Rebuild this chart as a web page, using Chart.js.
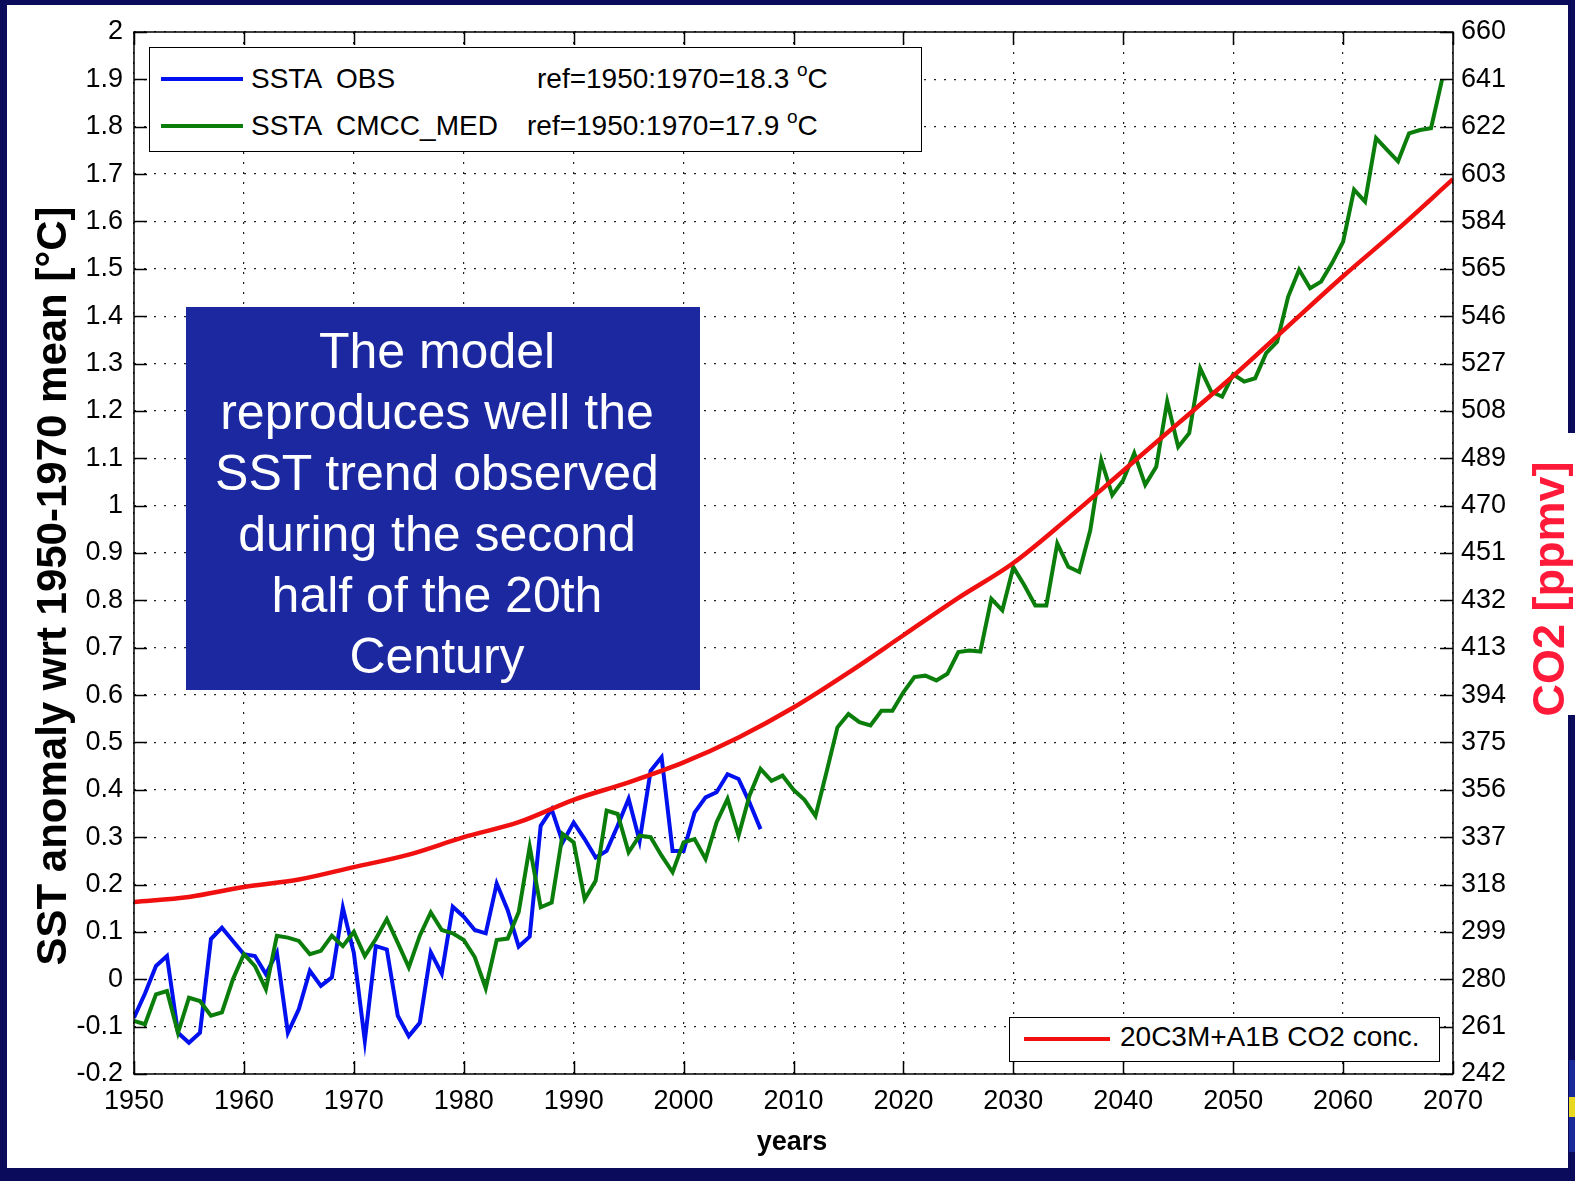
<!DOCTYPE html>
<html>
<head>
<meta charset="utf-8">
<title>SST anomaly and CO2</title>
<script src="https://cdn.jsdelivr.net/npm/chart.js@4.4.1/dist/chart.umd.min.js"></script>
<style>
  html, body { margin: 0; padding: 0; }
  body {
    width: 1575px; height: 1181px; position: relative; overflow: hidden;
    background: #0b0b5c;
    font-family: 'Liberation Sans', Arial, Helvetica, sans-serif;
  }
  #panel { position: absolute; left: 7px; top: 5px; width: 1561px; height: 1163px; background: #fff; }
  #tab { position: absolute; left: 1560px; top: 433px; width: 15px; height: 282px; background: #fff; }
  #logo { position: absolute; left: 1569px; top: 1060px; width: 6px; height: 92px;
          background: linear-gradient(#1b2a9a 0 40%, #e8d820 40% 62%, #1b2a9a 62% 100%); }
  #chart { position: absolute; left: 0; top: 0; }
  .box { position: absolute; background: #fff; border: 1.5px solid #000; box-sizing: border-box; }
  .swatch { position: absolute; height: 4px; }
  .txt { position: absolute; font-size: 28px; line-height: 32px; color: #000; white-space: pre; }
  .txt sup { font-size: 19px; position: relative; top: -3px; vertical-align: top; line-height: 19px; }
  #note {
    position: absolute; left: 186px; top: 307px; width: 514px; height: 383px;
    background: #1b28a0; color: #fff; box-sizing: border-box;
    padding: 14px 12px 0 0; text-align: center;
    font-size: 50px; line-height: 61px;
  }
</style>
</head>
<body>
<div id="panel"></div>
<div id="tab"></div>
<div id="logo"></div>
<canvas id="chart" width="1575" height="1181"></canvas>

<div class="box" style="left:149px;top:47px;width:773px;height:105px;"></div>
<div class="swatch" style="left:161px;top:77px;width:82px;background:#0010ee;"></div>
<div class="txt" style="left:251px;top:63px;">SSTA  OBS</div>
<div class="txt" style="left:537px;top:63px;">ref=1950:1970=18.3 <sup>o</sup>C</div>
<div class="swatch" style="left:161px;top:124px;width:82px;background:#0b7d0b;"></div>
<div class="txt" style="left:251px;top:110px;">SSTA  CMCC_MED</div>
<div class="txt" style="left:527px;top:110px;">ref=1950:1970=17.9 <sup>o</sup>C</div>

<div class="box" style="left:1009px;top:1017px;width:431px;height:45px;"></div>
<div class="swatch" style="left:1024px;top:1037px;width:86px;background:#f01010;"></div>
<div class="txt" style="left:1120px;top:1021px;">20C3M+A1B CO2 conc.</div>

<div id="note">The model<br>reproduces well the<br>SST trend observed<br>during the second<br>half of the 20th<br>Century</div>

<script>
// Observed Mediterranean SST anomaly (°C, relative to the 1950-1970 mean), 1950-2007
const obsStartYear = 1950;
const obsAnomaly = [
  -0.081, -0.030, 0.028, 0.049, -0.113, -0.134, -0.113, 0.085, 0.109, 0.081,
   0.053, 0.049, 0.011, 0.056, -0.113, -0.063, 0.018, -0.014, 0.004, 0.151,
   0.056, -0.130, 0.070, 0.063, -0.077, -0.120, -0.092, 0.057, 0.012, 0.153,
   0.132, 0.104, 0.097, 0.202, 0.146, 0.069, 0.090, 0.324, 0.359, 0.289,
   0.331, 0.296, 0.257, 0.271, 0.324, 0.381, 0.292, 0.440, 0.469, 0.271,
   0.271, 0.352, 0.384, 0.395, 0.433, 0.423, 0.373, 0.317
];

// CMCC_MED model SST anomaly (°C), 1950-2069
const modelStartYear = 1950;
const modelAnomaly = [
  -0.088, -0.095, -0.032, -0.025, -0.113, -0.039, -0.046, -0.077, -0.070, 0.000,
   0.053, 0.028, -0.021, 0.092, 0.088, 0.081, 0.053, 0.060, 0.092, 0.070,
   0.100, 0.049, 0.085, 0.127, 0.077, 0.025, 0.092, 0.141, 0.104, 0.097,
   0.083, 0.047, -0.019, 0.083, 0.086, 0.142, 0.280, 0.152, 0.162, 0.307,
   0.289, 0.169, 0.208, 0.356, 0.349, 0.268, 0.303, 0.300, 0.261, 0.226,
   0.289, 0.296, 0.254, 0.331, 0.381, 0.303, 0.388, 0.444, 0.419, 0.430,
   0.400, 0.379, 0.345, 0.437, 0.532, 0.560, 0.543, 0.536, 0.567, 0.567,
   0.606, 0.638, 0.641, 0.631, 0.645, 0.691, 0.694, 0.692, 0.803, 0.779,
   0.870, 0.832, 0.789, 0.789, 0.920, 0.871, 0.860, 0.948, 1.096, 1.022,
   1.054, 1.111, 1.044, 1.082, 1.220, 1.124, 1.153, 1.290, 1.241, 1.230,
   1.277, 1.262, 1.269, 1.322, 1.346, 1.441, 1.498, 1.459, 1.473, 1.512,
   1.557, 1.667, 1.642, 1.776, 1.751, 1.727, 1.786, 1.793, 1.797, 1.899
];

// 20C3M + A1B CO2 concentration (ppmv)
const co2Years = [1950, 1955, 1960, 1965, 1970, 1975, 1980, 1985, 1990, 1995, 2000, 2005,
                  2010, 2015, 2020, 2025, 2030, 2035, 2040, 2045, 2050, 2055, 2060, 2065, 2070];
const co2Ppmv  = [311, 313, 317, 320, 325, 330, 337, 343, 352, 359, 367, 377,
                  389, 403, 418, 433, 447, 465, 484, 503, 522, 542, 562, 581, 601];

// Axis ticks
const yearTicks = [1950, 1960, 1970, 1980, 1990, 2000, 2010, 2020, 2030, 2040, 2050, 2060, 2070];
const sstTicks = [-0.2, -0.1, 0, 0.1, 0.2, 0.3, 0.4, 0.5, 0.6, 0.7, 0.8, 0.9, 1,
                  1.1, 1.2, 1.3, 1.4, 1.5, 1.6, 1.7, 1.8, 1.9, 2];
const sstTickLabels = ['-0.2', '-0.1', '0', '0.1', '0.2', '0.3', '0.4', '0.5', '0.6', '0.7', '0.8', '0.9', '1',
                       '1.1', '1.2', '1.3', '1.4', '1.5', '1.6', '1.7', '1.8', '1.9', '2'];
const co2Ticks = [242, 261, 280, 299, 318, 337, 356, 375, 394, 413, 432, 451,
                  470, 489, 508, 527, 546, 565, 584, 603, 622, 641, 660];

const FONT = "'Liberation Sans', Arial, Helvetica, sans-serif";

const toPoints = (start, values) => values.map((v, i) => ({ x: start + i, y: v }));

// Box frame, inward tick marks and axis titles
const framePlugin = {
  id: 'frame',
  afterDraw(chart) {
    const { ctx, chartArea: a, scales } = chart;
    ctx.save();
    ctx.strokeStyle = '#000';
    ctx.lineWidth = 1.5;
    ctx.strokeRect(a.left, a.top, a.right - a.left, a.bottom - a.top);
    const L = 13;
    ctx.beginPath();
    scales.x.ticks.forEach(t => {
      const px = Math.round(scales.x.getPixelForValue(t.value)) + 0.5;
      ctx.moveTo(px, a.bottom); ctx.lineTo(px, a.bottom - L);
      ctx.moveTo(px, a.top); ctx.lineTo(px, a.top + L);
    });
    scales.y.ticks.forEach(t => {
      const py = Math.round(scales.y.getPixelForValue(t.value)) + 0.5;
      ctx.moveTo(a.left, py); ctx.lineTo(a.left + L, py);
    });
    scales.y2.ticks.forEach(t => {
      const py = Math.round(scales.y2.getPixelForValue(t.value)) + 0.5;
      ctx.moveTo(a.right, py); ctx.lineTo(a.right - L, py);
    });
    ctx.stroke();

    ctx.textAlign = 'center';
    ctx.textBaseline = 'middle';
    // left axis title
    ctx.save();
    ctx.translate(54, 586);
    ctx.rotate(-Math.PI / 2);
    ctx.fillStyle = '#000';
    ctx.font = 'bold 42px ' + FONT;
    ctx.fillText('SST anomaly wrt 1950-1970 mean [°C]', 0, 0);
    ctx.restore();
    // right axis title
    ctx.save();
    ctx.translate(1552, 589);
    ctx.rotate(-Math.PI / 2);
    ctx.fillStyle = '#ff1a3a';
    ctx.font = 'bold 45px ' + FONT;
    ctx.fillText('CO2 [ppmv]', 0, 0);
    ctx.restore();
    // bottom axis title
    ctx.fillStyle = '#000';
    ctx.font = 'bold 27px ' + FONT;
    ctx.fillText('years', 792, 1143);
    ctx.restore();
  }
};

const tickFont = { family: FONT, size: 27 };
const gridStyle = { color: '#222', lineWidth: 1.2, drawTicks: false };

new Chart(document.getElementById('chart'), {
  type: 'line',
  data: {
    datasets: [
      {
        label: '20C3M+A1B CO2 conc.',
        data: co2Years.map((x, i) => ({ x, y: co2Ppmv[i] })),
        yAxisID: 'y2',
        borderColor: '#f01010',
        borderWidth: 4.5,
        pointRadius: 0,
        cubicInterpolationMode: 'monotone',
        order: 0
      },
      {
        label: 'SSTA CMCC_MED',
        data: toPoints(modelStartYear, modelAnomaly),
        yAxisID: 'y',
        borderColor: '#0b7d0b',
        borderWidth: 4,
        pointRadius: 0,
        tension: 0,
        order: 1
      },
      {
        label: 'SSTA OBS',
        data: toPoints(obsStartYear, obsAnomaly),
        yAxisID: 'y',
        borderColor: '#0010ee',
        borderWidth: 4,
        pointRadius: 0,
        tension: 0,
        order: 2
      }
    ]
  },
  options: {
    responsive: false,
    animation: false,
    devicePixelRatio: 1,
    layout: { padding: { top: 32, left: 0, right: 0, bottom: 0 } },
    plugins: { legend: { display: false }, tooltip: { enabled: false } },
    scales: {
      x: {
        type: 'linear', min: 1950, max: 2070,
        afterBuildTicks: s => { s.ticks = yearTicks.map(v => ({ value: v })); },
        afterFit: s => { s.height = 107; },
        grid: gridStyle,
        border: { display: false, dash: [2, 8] },
        ticks: { padding: 11, color: '#000', font: tickFont, maxRotation: 0, autoSkip: false,
                 callback: v => String(v) }
      },
      y: {
        position: 'left', min: -0.2, max: 2,
        afterBuildTicks: s => { s.ticks = sstTicks.map(v => ({ value: v })); },
        afterFit: s => { s.width = 134; },
        grid: gridStyle,
        border: { display: false, dash: [2, 8] },
        ticks: { padding: 11, color: '#000', font: tickFont, autoSkip: false,
                 callback: (v, i) => sstTickLabels[i] }
      },
      y2: {
        position: 'right', min: 242, max: 660,
        afterBuildTicks: s => { s.ticks = co2Ticks.map(v => ({ value: v })); },
        afterFit: s => { s.width = 122; },
        grid: { display: false, drawTicks: false },
        border: { display: false },
        ticks: { padding: 8, color: '#000', font: tickFont, autoSkip: false,
                 callback: v => String(v) }
      }
    }
  },
  plugins: [framePlugin]
});
</script>
</body>
</html>
